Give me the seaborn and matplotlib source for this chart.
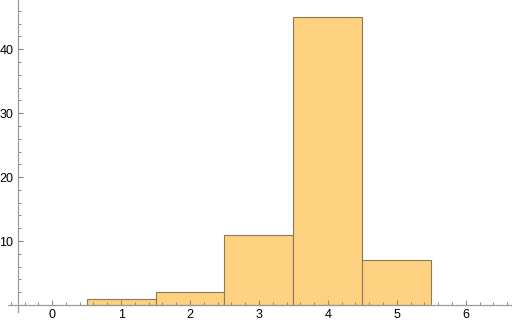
import matplotlib
matplotlib.use("Agg")
import matplotlib.pyplot as plt
import seaborn as sns
import pandas as pd
from matplotlib.ticker import MultipleLocator

values = [1, 2, 3, 4, 5]
counts = [1, 2, 11, 45, 7]
bin_edges = [0.5, 1.5, 2.5, 3.5, 4.5, 5.5]
x_ticks = [0, 1, 2, 3, 4, 5, 6]
y_ticks = [10, 20, 30, 40]

sns.set_style("white")
plt.rcParams['font.family'] = ['Liberation Sans', 'DejaVu Sans']

df = pd.DataFrame({"value": values, "count": counts})

fig = plt.figure(figsize=(5.12, 3.25), dpi=100)
ax = fig.add_axes([8/512, 1 - 312/325, 1 - 8/512, 312/325])

sns.histplot(data=df, x="value", weights="count", bins=bin_edges, ax=ax,
             color="#FDD17F", alpha=1.0, edgecolor="#8a7a5c", linewidth=0.8)

ax.set_xlim(-0.64, 6.67)
ax.set_ylim(-1.1, 47.7)
ax.set_xlabel("")
ax.set_ylabel("")

for s in ["top", "right"]:
    ax.spines[s].set_visible(False)
ax.spines["left"].set_position(("data", -0.5))
ax.spines["bottom"].set_position(("data", 0))
for s in ["left", "bottom"]:
    ax.spines[s].set_color("#999999")
    ax.spines[s].set_linewidth(0.9)
    ax.spines[s].set_zorder(5)

ax.set_xticks(x_ticks)
ax.set_yticks(y_ticks)
ax.xaxis.set_minor_locator(MultipleLocator(0.2))
ax.yaxis.set_minor_locator(MultipleLocator(2))
ax.tick_params(axis="both", which="both", bottom=True, left=True, top=False, right=False)
ax.tick_params(axis="both", which="major", direction="in", length=3.6, width=0.8,
               color="#888888", labelsize=9, labelcolor="black", pad=3)
ax.tick_params(axis="both", which="minor", direction="in", length=2, width=0.7,
               color="#888888")
ax.grid(False)
for t in ax.xaxis.get_major_ticks() + ax.xaxis.get_minor_ticks():
    t.tick1line.set_zorder(6)
ax.set_axisbelow(False)

fig.savefig("out.png", dpi=100)
